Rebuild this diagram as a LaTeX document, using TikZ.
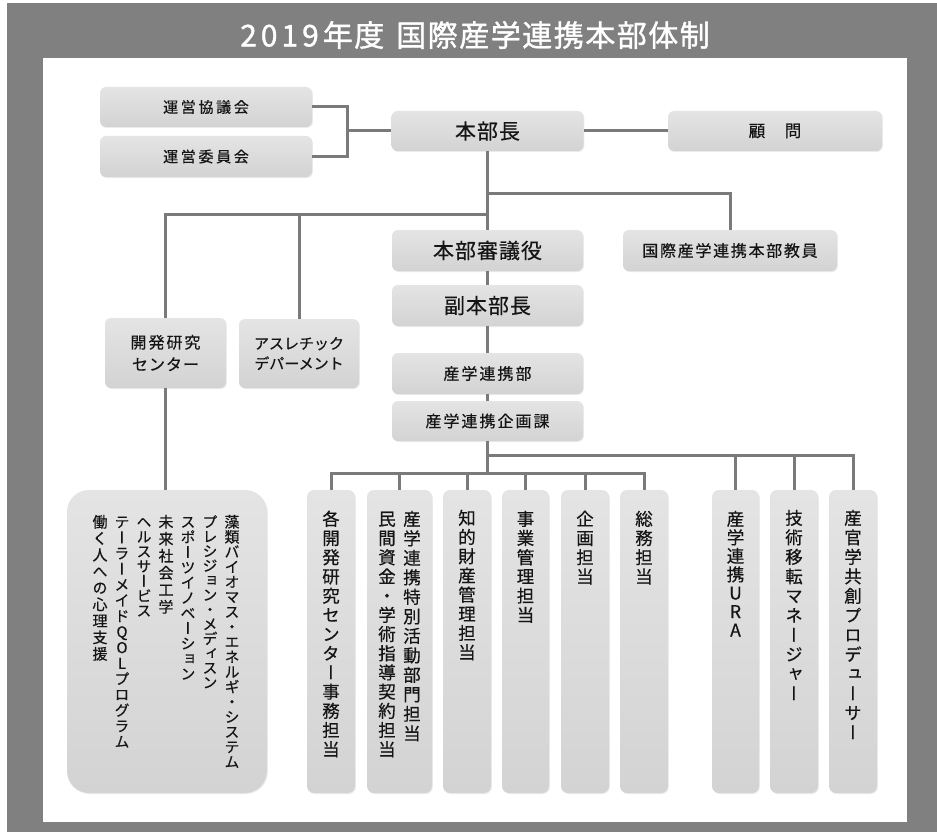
\documentclass[tikz,border=0pt]{standalone}
\usepackage{fontspec}
\setmainfont{Noto Sans CJK JP}[FakeBold=0.5]
\newfontfamily\vjp[RawFeature=+vert,FakeBold=0.5]{Noto Sans CJK JP}
\newfontfamily\titlefont[FakeBold=1.2]{Noto Sans CJK JP}
\usetikzlibrary{shadows}
\definecolor{framegray}{HTML}{808080}
\definecolor{linegray}{HTML}{7A7A7A}
\definecolor{boxtop}{HTML}{E4E4E4}
\definecolor{boxbot}{HTML}{D3D3D3}
\definecolor{ink}{HTML}{151515}
\makeatletter
\def\vt@end{VTEND}
\def\vt@loop#1{\ifx#1\vt@end\else\hbox to 1.3em{\hss#1\hss}\expandafter\vt@loop\fi}
\newcommand\vtext[2][19pt]{\vtop{\baselineskip=#1\relax\lineskiplimit=-\maxdimen\lineskip=0pt\relax\vjp\vt@loop#2\vt@end}}
\def\sp@loop#1{\ifx#1\vt@end\else#1\kern\sp@k\relax\expandafter\sp@loop\fi}
\newcommand\sptext[2]{\def\sp@k{#1}\sp@loop#2\vt@end\kern-#1\relax}
\makeatother
\tikzset{
  box/.style={rounded corners=6pt, top color=boxtop, bottom color=boxbot, draw=none,
    inner sep=0pt, text=ink, align=center,
    drop shadow={shadow xshift=0.8pt, shadow yshift=-1pt, opacity=0.15}},
  colbox/.style={box, rounded corners=7pt},
  bigbox/.style={box, rounded corners=22pt},
  conn/.style={draw=linegray, line width=3pt},
  vcol/.style={anchor=base, inner sep=0pt, text=ink},
  f15/.style={font=\fontsize{15}{20}\selectfont},
  f16/.style={font=\fontsize{16}{22}\selectfont},
  f21/.style={font=\fontsize{21}{24}\selectfont},
  fcol/.style={font=\fontsize{17.5}{19}\selectfont},
  fbig/.style={font=\fontsize{15}{16}\selectfont},
}
\begin{document}
\begin{tikzpicture}[x=1pt,y=-1pt]
\useasboundingbox (0,0) rectangle (937,832);
\fill[white] (0,0) rectangle (937,832);
\fill[framegray] (7,3) rectangle (937,832);
\fill[white] (43,58) rectangle (907,822);
\node[text=white, font=\titlefont\fontsize{30}{30}\selectfont] (title) at (475,35)
  {\sptext{4pt}{2019}\kern4pt\sptext{1.5pt}{年度}\hspace{12pt}\sptext{1.5pt}{国際産学連携本部体制}};

% top boxes
\node[box, f15, minimum width=212, minimum height=40] (kyogi) at (206,107) {\sptext{2.7pt}{運営協議会}};
\node[box, f15, minimum width=212, minimum height=41] (iin) at (206,156.5) {\sptext{2.7pt}{運営委員会}};
\node[box, f21, minimum width=192, minimum height=40] (honbucho) at (487.5,131) {\sptext{1pt}{本部長}};
\node[box, font=\fontsize{16.5}{20}\selectfont, minimum width=214, minimum height=40] (komon) at (775,131) {顧\hspace{19.5pt}問};
\node[box, f16, minimum width=214, minimum height=41] (kyoin) at (730,250.5) {\sptext{1.7pt}{国際産学連携本部教員}};
\node[box, f21, minimum width=191, minimum height=41] (shingi) at (487.5,250.5) {\sptext{1pt}{本部審議役}};
\node[box, f21, minimum width=191, minimum height=41] (fuku) at (487.5,305.5) {\sptext{1pt}{副本部長}};
\node[box, f16, minimum width=191, minimum height=41] (sangakubu) at (487.5,373.5) {\sptext{2pt}{産学連携部}};
\node[box, f16, minimum width=191, minimum height=40] (kikaku) at (487.5,421) {\sptext{2pt}{産学連携企画課}};
\node[box, f16, minimum width=121, minimum height=70] (kaihatsu) at (165.5,353) {\sptext{2pt}{開発研究}\\\sptext{1pt}{センター}};
\node[box, f15, minimum width=120, minimum height=69] (athletic) at (299,353.5) {アスレチック\\デパーメント};

% bottom boxes
\node[bigbox, minimum width=200, minimum height=303] (big) at (167,641.5) {};
\node[colbox, minimum width=48, minimum height=303] (c1) at (331,641.5) {};
\node[colbox, minimum width=65, minimum height=303] (c2) at (399.5,641.5) {};
\node[colbox, minimum width=48, minimum height=303] (c3) at (467,641.5) {};
\node[colbox, minimum width=47, minimum height=303] (c4) at (525.5,641.5) {};
\node[colbox, minimum width=48, minimum height=303] (c5) at (585,641.5) {};
\node[colbox, minimum width=48, minimum height=303] (c6) at (644,641.5) {};
\node[colbox, minimum width=47, minimum height=303] (c7) at (735.5,641.5) {};
\node[colbox, minimum width=48, minimum height=303] (c8) at (794,641.5) {};
\node[colbox, minimum width=48, minimum height=303] (c9) at (853,641.5) {};

% vertical texts
\node[vcol, fcol] (t1) at (331,525.5) {\vtext[19.2pt]{各開発研究センター事務担当}};
\node[vcol, fcol] (t2a) at (412,525.5) {\vtext[19.5pt]{産学連携特別活動部門担当}};
\node[vcol, fcol] (t2b) at (387,525.5) {\vtext[19.2pt]{民間資金・学術指導契約担当}};
\node[vcol, fcol] (t3) at (467,524.5) {\vtext[19.2pt]{知的財産管理担当}};
\node[vcol, fcol] (t4) at (525.5,525.5) {\vtext[19.2pt]{事業管理担当}};
\node[vcol, fcol] (t5) at (585,525.5) {\vtext[19.2pt]{企画担当}};
\node[vcol, fcol] (t6) at (644,525.5) {\vtext[19.2pt]{総務担当}};
\node[vcol, fcol] (t7) at (735.5,525.5) {\vtext[18.5pt]{産学連携URA}};
\node[vcol, fcol] (t8) at (794,524.5) {\vtext[19.5pt]{技術移転マネージャー}};
\node[vcol, fcol] (t9) at (853,524.5) {\vtext[19.5pt]{産官学共創プロデューサー}};

\node[vcol, fbig] (b1) at (232,527.5) {\vtext[15pt]{藻類バイオマス・エネルギ・システム}};
\node[vcol, fbig] (b2) at (210,527.5) {\vtext[14.6pt]{プレシジョン・メディスン}};
\node[vcol, fbig] (b3) at (188,527.5) {\vtext[15.2pt]{スポーツイノベーション}};
\node[vcol, fbig] (b4) at (166,527.5) {\vtext[17pt]{未来社会工学}};
\node[vcol, fbig] (b5) at (144,527.5) {\vtext[14.8pt]{ヘルスサービス}};
\node[vcol, fbig] (b6) at (122,527.5) {\vtext[15.7pt]{テーラーメイドQOLプログラム}};
\node[vcol, fbig] (b7) at (100,527.5) {\vtext[16.5pt]{働く人への心理支援}};

% connectors
\coordinate (bj) at (347,131);
\draw[conn] (kyogi.east) -| (bj) |- (iin.east);
\draw[conn] (bj) -- (honbucho.west);
\draw[conn] (honbucho.east) -- (komon.west);
\draw[conn] (honbucho.south) -- (shingi.north);
\coordinate (j1) at (487.5,193);
\coordinate (j2) at (487.5,214);
\draw[conn] (j1) -| (kyoin.north);
\draw[conn] (j2) -| (kaihatsu.north);
\draw[conn] (athletic.north) |- (j2);
\draw[conn] (shingi.south) -- (fuku.north);
\draw[conn] (fuku.south) -- (sangakubu.north);
\draw[conn] (sangakubu.south) -- (kikaku.north);
\coordinate (j3) at (487.5,455);
\coordinate (j4) at (487.5,473);
\draw[conn] (kikaku.south) -- (j4);
\foreach \c in {c7,c8,c9} \draw[conn] (j3) -| (\c.north);
\foreach \c in {c1,c2,c3,c4,c5,c6} \draw[conn] (j4) -| (\c.north);
\draw[conn] (kaihatsu.south) -- (kaihatsu.south |- big.north);
\end{tikzpicture}
\end{document}
